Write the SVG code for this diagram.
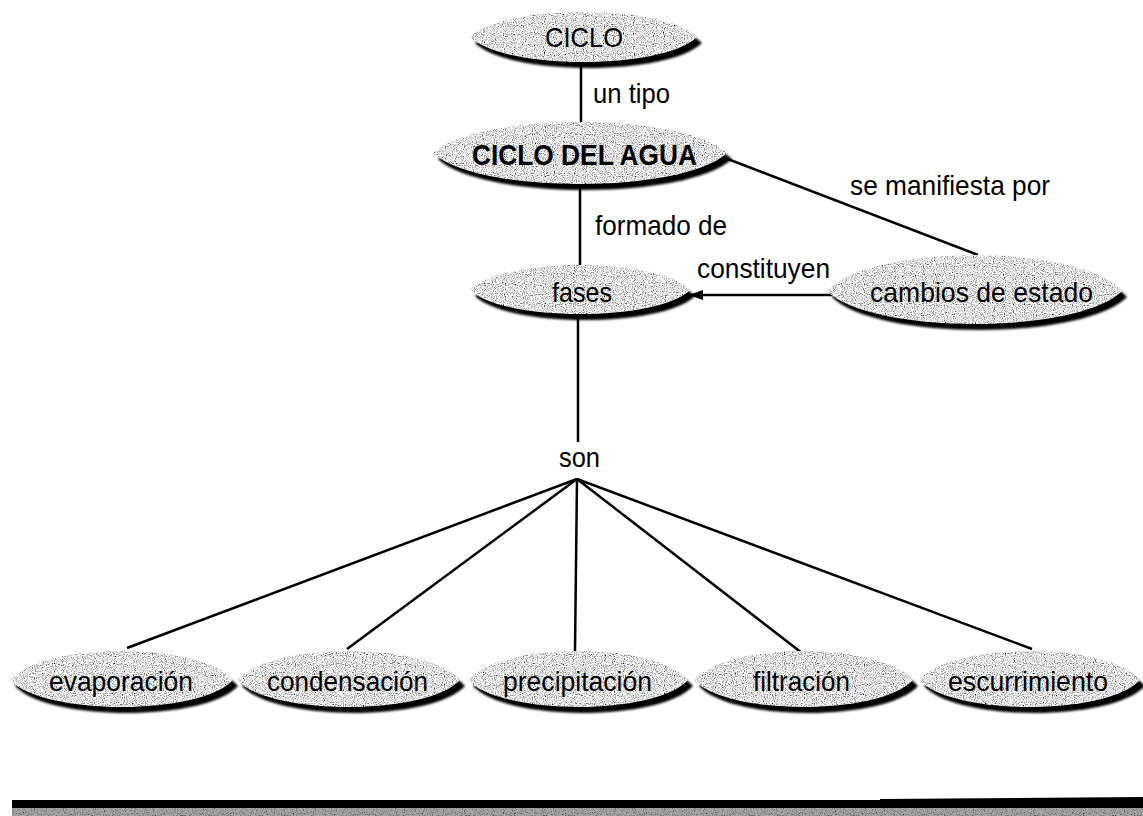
<svg xmlns="http://www.w3.org/2000/svg" width="1143" height="816" viewBox="0 0 1143 816">
  <defs>
    <filter id="speckle" x="-5%" y="-10%" width="110%" height="120%">
      <feTurbulence type="fractalNoise" baseFrequency="0.9" numOctaves="1" seed="4" result="noise"/>
      <feColorMatrix in="noise" type="matrix" values="2.8 0 0 0 -0.62  2.8 0 0 0 -0.62  2.8 0 0 0 -0.62  0 0 0 0 1" result="gray"/>
      <feComposite in="gray" in2="SourceGraphic" operator="in"/>
    </filter>
    <filter id="blur" x="-5%" y="-20%" width="110%" height="140%">
      <feGaussianBlur stdDeviation="1.3"/>
    </filter>
    <marker id="arrow" viewBox="0 0 14 10" refX="13" refY="5" markerWidth="14" markerHeight="10" markerUnits="userSpaceOnUse" orient="auto">
      <path d="M0,0 L14,5 L0,10 Z" fill="#000"/>
    </marker>
  </defs>
  <style>
    .sh { fill: #000; filter: url(#blur); }
    .lens { fill: #c0c0c0; filter: url(#speckle); }
    .t { font-family: "Liberation Sans", Arial, Helvetica, sans-serif; font-size: 28px; fill: #000; }
    .b { font-weight: bold; font-size: 30px; }
    .c line { stroke: #000; stroke-width: 2.5; fill: none; }
  </style>
  <rect x="0" y="0" width="1143" height="816" fill="#fff"/>

  <g class="c" id="connectors">
    <line x1="581" y1="62" x2="581" y2="124"/>
    <line x1="712" y1="153" x2="978" y2="255"/>
    <line x1="580" y1="186" x2="580" y2="267"/>
    <line x1="835" y1="295" x2="690" y2="295" marker-end="url(#arrow)"/>
    <line x1="578" y1="316" x2="578" y2="442"/>
    <line x1="577" y1="479" x2="127" y2="648"/>
    <line x1="577" y1="479" x2="347" y2="649"/>
    <line x1="577" y1="479" x2="575" y2="651"/>
    <line x1="577" y1="479" x2="802" y2="653"/>
    <line x1="577" y1="479" x2="1032" y2="649"/>
  </g>

  <g id="labels">
    <text class="t" x="593" y="103" textLength="77" lengthAdjust="spacingAndGlyphs">un tipo</text>
    <text class="t" x="850" y="195" textLength="200" lengthAdjust="spacingAndGlyphs">se manifiesta por</text>
    <text class="t" x="595" y="235" textLength="132" lengthAdjust="spacingAndGlyphs">formado de</text>
    <text class="t" x="697" y="278" textLength="133" lengthAdjust="spacingAndGlyphs">constituyen</text>
    <text class="t" x="559" y="467" textLength="41" lengthAdjust="spacingAndGlyphs">son</text>
  </g>

  <g id="n-ciclo">
    <path class="sh" transform="translate(5,6)" d="M470,37 C504,3.7 663,3.7 697,37 C663,70.3 504,70.3 470,37Z"/>
    <path class="lens" d="M470,37 C504,3.7 663,3.7 697,37 C663,70.3 504,70.3 470,37Z"/>
    <text class="t" x="545" y="47" textLength="78" lengthAdjust="spacingAndGlyphs">CICLO</text>
  </g>

  <g id="n-ciclo-agua">
    <path class="sh" transform="translate(5,6)" d="M433,153 C477,111.7 683,111.7 727,153 C683,194.3 477,194.3 433,153Z"/>
    <path class="lens" d="M433,153 C477,111.7 683,111.7 727,153 C683,194.3 477,194.3 433,153Z"/>
    <text class="t b" x="472" y="165" textLength="225" lengthAdjust="spacingAndGlyphs">CICLO DEL AGUA</text>
  </g>

  <g id="n-fases">
    <path class="sh" transform="translate(5,6)" d="M470,290 C503,256.7 657,256.7 690,290 C657,322 503,322 470,290Z"/>
    <path class="lens" d="M470,290 C503,256.7 657,256.7 690,290 C657,322 503,322 470,290Z"/>
    <text class="t" x="552" y="302" textLength="60" lengthAdjust="spacingAndGlyphs">fases</text>
  </g>

  <g id="n-cambios">
    <path class="sh" transform="translate(5,6)" d="M827,291 C871,243 1078,243 1122,291 C1078,335 871,335 827,291Z"/>
    <path class="lens" d="M827,291 C871,243 1078,243 1122,291 C1078,335 871,335 827,291Z"/>
    <text class="t" x="870" y="302" textLength="223" lengthAdjust="spacingAndGlyphs">cambios de estado</text>
  </g>

  <g id="n-evaporacion">
    <path class="sh" transform="translate(5,6)" d="M10,680 C43,641.3 200,641.3 233,680 C200,716 43,716 10,680Z"/>
    <path class="lens" d="M10,680 C43,641.3 200,641.3 233,680 C200,716 43,716 10,680Z"/>
    <text class="t" x="49" y="691" textLength="144" lengthAdjust="spacingAndGlyphs">evaporación</text>
  </g>

  <g id="n-condensacion">
    <path class="sh" transform="translate(5,6)" d="M237,680 C270,641.3 427,641.3 460,680 C427,716 270,716 237,680Z"/>
    <path class="lens" d="M237,680 C270,641.3 427,641.3 460,680 C427,716 270,716 237,680Z"/>
    <text class="t" x="267" y="691" textLength="161" lengthAdjust="spacingAndGlyphs">condensación</text>
  </g>

  <g id="n-precipitacion">
    <path class="sh" transform="translate(5,6)" d="M468,680 C501,641.3 655,641.3 688,680 C655,716 501,716 468,680Z"/>
    <path class="lens" d="M468,680 C501,641.3 655,641.3 688,680 C655,716 501,716 468,680Z"/>
    <text class="t" x="503" y="691" textLength="149" lengthAdjust="spacingAndGlyphs">precipitación</text>
  </g>

  <g id="n-filtracion">
    <path class="sh" transform="translate(5,6)" d="M694,680 C727,641.3 880,641.3 913,680 C880,716 727,716 694,680Z"/>
    <path class="lens" d="M694,680 C727,641.3 880,641.3 913,680 C880,716 727,716 694,680Z"/>
    <text class="t" x="753" y="691" textLength="97" lengthAdjust="spacingAndGlyphs">filtración</text>
  </g>

  <g id="n-escurrimiento">
    <path class="sh" transform="translate(5,6)" d="M919,680 C952,641.3 1107,641.3 1140,680 C1107,716 952,716 919,680Z"/>
    <path class="lens" d="M919,680 C952,641.3 1107,641.3 1140,680 C1107,716 952,716 919,680Z"/>
    <text class="t" x="948" y="691" textLength="160" lengthAdjust="spacingAndGlyphs">escurrimiento</text>
  </g>

  <g id="bottom-bar">
    <path d="M12,800 L880,800 L880,799 L1143,797 L1143,808 L12,808 Z" fill="#000"/>
    <rect class="lens" x="12" y="808" width="1131" height="8"/>
    <rect x="12" y="808" width="1131" height="8" fill="#555" opacity="0.5"/>
  </g>
</svg>
